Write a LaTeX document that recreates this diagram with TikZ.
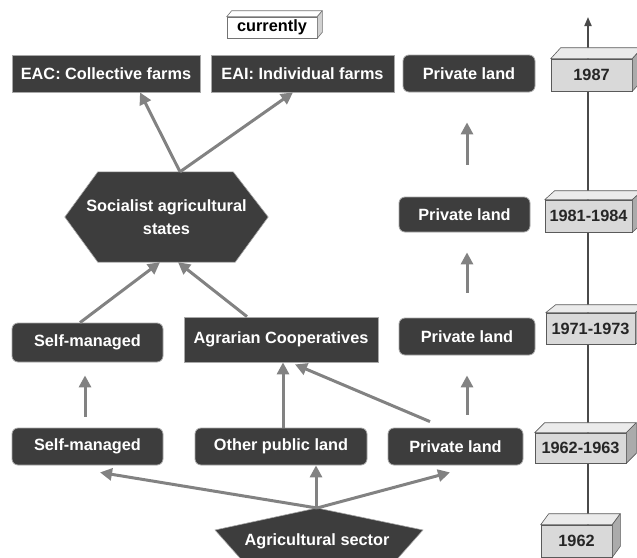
\documentclass[tikz,border=0pt]{standalone}
\usepackage{fontspec}
\setmainfont{Liberation Sans}
\usetikzlibrary{arrows.meta,calc,backgrounds}
\definecolor{nodefill}{HTML}{3D3D3D}
\definecolor{nodeedge}{HTML}{A8A8A8}
\definecolor{arrowc}{HTML}{828282}
\definecolor{yrfront}{HTML}{D9D9D9}
\definecolor{yrtop}{HTML}{EBEBEB}
\definecolor{yrside}{HTML}{ABABAB}
\definecolor{yredge}{HTML}{5A5A5A}
\definecolor{tlc}{HTML}{4A4A4A}
\newcommand\yrdepth[6]{% node, dx, dy, top colour, side colour, edge colour
  \filldraw[fill=#4, draw=#6, line width=0.6pt, line join=round] (#1.north west) -- ++(#2,-#3) -- ($(#1.north east)+(#2,-#3)$) -- (#1.north east) -- cycle;
  \filldraw[fill=#5, draw=#6, line width=0.6pt, line join=round] (#1.north east) -- ++(#2,-#3) -- ($(#1.south east)+(#2,-#3)$) -- (#1.south east) -- cycle;}
\begin{document}
\begin{tikzpicture}[x=1pt, y=-1pt,
  font=\bfseries\fontsize{16.3}{23}\selectfont,
  sbox/.style={fill=nodefill, draw=nodeedge, line width=0.8pt, text=white, inner sep=0pt, align=center},
  rbox/.style={sbox, rounded corners=6pt},
  txtnode/.style={text=white, inner sep=0pt, align=center},
  arr/.style={draw=arrowc, line width=3pt, -{Triangle[length=12pt,width=12pt]}},
  yrbox/.style={fill=yrfront, draw=yredge, line width=0.6pt, text=black!85, inner sep=0pt},
  tl/.style={draw=tlc, line width=1.8pt, -{Triangle[length=9pt,width=7pt]}}]
\clip (0,0) rectangle (637,557);

% currently
\node[fill=white, draw=black!55, line width=0.6pt, inner sep=0pt, minimum width=90pt, minimum height=21pt] (cur) at (272,27.5) {currently};
\yrdepth{cur}{5}{6}{white}{black!18}{black!55}

% top row
\node[sbox, minimum width=188pt, minimum height=37pt] (eac) at (106,73.5) {EAC: Collective farms};
\node[sbox, minimum width=183pt, minimum height=37pt] (eai) at (302.5,73.5) {EAI: Individual farms};
\node[rbox, minimum width=132pt, minimum height=37pt] (pl4) at (469,73.5) {Private land};

% socialist hexagon
\node[txtnode, minimum width=203pt, minimum height=90pt] (soc) at (166.5,217) {Socialist agricultural\\states};
\begin{pgfonlayer}{background}
\filldraw[fill=nodefill, draw=nodeedge, line width=0.6pt] (soc.west) -- ($(soc.north west)+(33,0)$) -- ($(soc.north east)+(-35,0)$) -- (soc.east) -- ($(soc.south east)+(-33,0)$) -- ($(soc.south west)+(33,0)$) -- cycle;
\end{pgfonlayer}

\node[rbox, minimum width=131pt, minimum height=35pt] (pl3) at (464.5,214.5) {Private land};

% middle row
\node[rbox, minimum width=151pt, minimum height=39pt] (sm2) at (87.5,342.5) {Self-managed};
\node[sbox, minimum width=194pt, minimum height=45pt] (ac) at (281,339.5) {Agrarian Cooperatives};
\node[rbox, minimum width=136pt, minimum height=37pt] (pl2) at (467,336.5) {Private land};

% lower row
\node[rbox, minimum width=151pt, minimum height=37pt] (sm1) at (87.5,446.5) {Self-managed};
\node[rbox, minimum width=172pt, minimum height=37pt] (opl) at (281,446.5) {Other public land};
\node[rbox, minimum width=135pt, minimum height=37pt] (pl1) at (455.5,446.5) {Private land};

% agricultural sector
\node[txtnode] (agr) at (317,541) {Agricultural sector};
\coordinate (agrtop) at ($(agr.center)+(0,-33)$);
\begin{pgfonlayer}{background}
\filldraw[fill=nodefill, draw=nodeedge, line width=0.6pt] ($(agr.center)+(-102,-11)$) -- (agrtop) -- ($(agr.center)+(106,-11)$) -- ($(agr.center)+(74,25)$) -- ($(agr.center)+(-70,25)$) -- cycle;
\end{pgfonlayer}

% arrows
\draw[arr] ($(soc.north)+(13.5,0)$) -- ($(eac.south)+(34,0)$);
\draw[arr] ($(soc.north)+(13.5,0)$) -- ($(eai.south)+(-9.5,0)$);
\draw[arr] ($(sm2.north)+(-7.5,0)$) -- ($(soc.south)+(-6.5,0)$);
\draw[arr] ($(ac.north)+(-34,0)$) -- ($(soc.south)+(11.5,0)$);
\draw[arr, shorten <=11pt, shorten >=13pt] ($(sm1.north)+(-2.5,0)$) -- ($(sm2.south)+(-2.5,0)$);
\draw[arr] ($(opl.north)+(2,0)$) -- ($(ac.south)+(2,0)$);
\draw[arr] ($(pl1.north)+(-25.5,-6)$) -- ($(ac.south)+(14,2)$);
\draw[arr] (agrtop) -- ($(sm1.south)+(12.5,7)$);
\draw[arr] ($(agrtop)+(-1,0)$) -- ($(opl.south)+(35,0)$);
\draw[arr] (agrtop) -- ($(pl1.south)+(-5.5,7)$);
\draw[arr, shorten <=13pt, shorten >=20pt] ($(pl1.north)+(11.5,0)$) -- (pl2.south);
\draw[arr, shorten <=25pt, shorten >=20pt] (pl2.north) -- ($(pl3.south)+(2.5,0)$);
\draw[arr, shorten <=32pt, shorten >=30pt] ($(pl3.north)+(2.5,0)$) -- ($(pl4.south)+(-2,0)$);

% timeline
\node[yrbox, minimum width=81pt, minimum height=32pt] (y87) at (591.5,75) {1987};
\node[yrbox, minimum width=87pt, minimum height=32pt] (y81) at (588.5,216) {1981-1984};
\node[yrbox, minimum width=89pt, minimum height=31pt] (y71) at (590.5,328.5) {1971-1973};
\node[yrbox, minimum width=91pt, minimum height=30pt] (y62b) at (580.5,448) {1962-1963};
\node[yrbox, minimum width=71pt, minimum height=32pt] (y62) at (576.5,541) {1962};
\coordinate (tltop) at (588,17);
\begin{pgfonlayer}{background}
\draw[tl] (y62.center -| tltop) -- (tltop);
\end{pgfonlayer}
\yrdepth{y87}{10}{11}{yrtop}{yrside}{yredge}
\yrdepth{y81}{10}{9}{yrtop}{yrside}{yredge}
\yrdepth{y71}{10}{8}{yrtop}{yrside}{yredge}
\yrdepth{y62b}{10}{10}{yrtop}{yrside}{yredge}
\yrdepth{y62}{8}{11}{yrtop}{yrside}{yredge}
\end{tikzpicture}
\end{document}
